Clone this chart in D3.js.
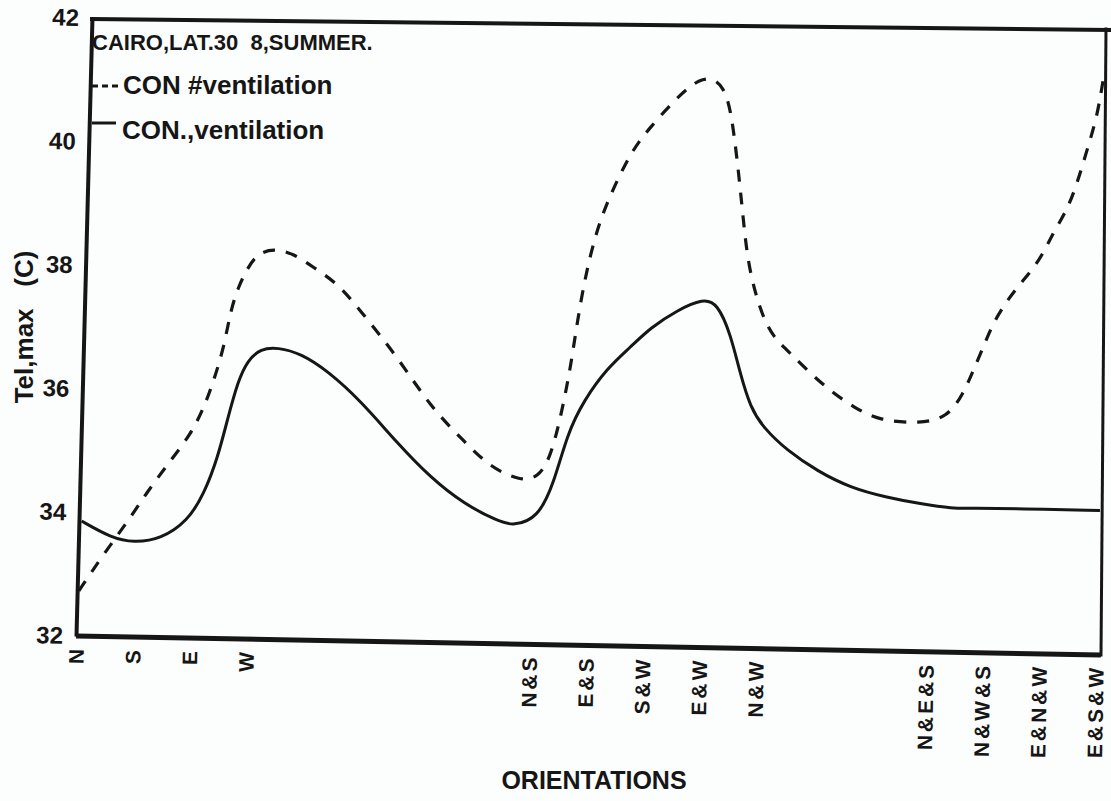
<!DOCTYPE html>
<html>
<head>
<meta charset="utf-8">
<script src="https://cdn.jsdelivr.net/npm/d3@7"></script>
<style>
  html, body { margin: 0; padding: 0; background: #fcfdfd; }
  svg { display: block; }
  text { font-family: "Liberation Sans", Arial, Helvetica, sans-serif; font-weight: bold; fill: #161616; white-space: pre; }
</style>
</head>
<body>
<svg id="chart" width="1111" height="801"></svg>
<script>
// ---------- data ----------
const categories = ["N", "S", "E", "W", "N&S", "E&S", "S&W", "E&W", "N&W", "N&E&S", "N&W&S", "E&N&W", "E&S&W"];
const categorySlots = [0, 1, 2, 3, 8, 9, 10, 11, 12, 15, 16, 17, 18];
const yTicks = [32, 34, 36, 38, 40, 42];

const titleText = "CAIRO,LAT.30  8,SUMMER.";
const seriesNames = ["CON #ventilation", "CON.,ventilation"];
const xTitle = "ORIENTATIONS";
const yTitle = "Tel,max   (C)";

// dashed curve: CON #ventilation (position along the orientation axis, value °C)
const noVentPos = [0.05, 0.49, 0.92, 1.27, 1.67, 2.03, 2.26, 2.43, 2.61, 2.73, 2.86, 3.03, 3.21, 3.49, 3.84, 4.20, 4.62, 4.97, 5.68, 6.26, 6.84, 7.32, 7.85, 8.15, 8.37, 8.55, 8.73, 8.90, 9.13, 9.38, 9.78, 10.08, 10.67, 11.02, 11.25, 11.42, 11.55, 11.67, 11.76, 11.85, 11.99, 12.13, 12.31, 12.61, 12.96, 13.31, 13.72, 14.19, 14.90, 15.37, 15.66, 15.83, 16.01, 16.18, 16.43, 16.71, 17.01, 17.24, 17.49, 17.67, 17.84, 18.02, 18.13];
const noVentVal = [32.73, 33.33, 33.86, 34.35, 34.84, 35.27, 35.70, 36.13, 36.67, 37.27, 37.64, 37.96, 38.19, 38.27, 38.19, 37.96, 37.70, 37.32, 36.51, 35.70, 35.16, 34.72, 34.51, 34.56, 34.88, 35.53, 36.34, 37.43, 38.40, 39.05, 39.81, 40.18, 40.78, 41.02, 41.02, 40.88, 40.56, 39.70, 38.89, 38.08, 37.54, 37.15, 36.83, 36.57, 36.25, 35.97, 35.70, 35.48, 35.44, 35.53, 35.92, 36.29, 36.67, 37.06, 37.43, 37.75, 38.08, 38.52, 38.89, 39.33, 39.86, 40.40, 41.02];

// solid curve: CON.,ventilation
const ventPos = [0.10, 0.62, 1.02, 1.50, 1.97, 2.26, 2.50, 2.68, 2.86, 3.03, 3.26, 3.56, 3.97, 4.44, 5.02, 5.68, 6.26, 6.84, 7.44, 7.72, 8.15, 8.43, 8.67, 8.96, 9.38, 9.78, 10.14, 10.61, 11.07, 11.32, 11.55, 11.72, 11.90, 12.13, 12.55, 13.08, 13.66, 14.32, 14.90, 15.48, 15.78, 16.66, 18.07];
const ventVal = [33.86, 33.59, 33.51, 33.57, 33.86, 34.30, 34.88, 35.53, 36.13, 36.46, 36.65, 36.67, 36.57, 36.29, 35.81, 35.11, 34.56, 34.14, 33.86, 33.78, 33.91, 34.46, 35.27, 35.81, 36.34, 36.67, 36.99, 37.27, 37.46, 37.38, 36.89, 36.25, 35.70, 35.37, 35.00, 34.67, 34.40, 34.24, 34.14, 34.06, 34.07, 34.06, 34.03];

// ---------- layout ----------
const ink = "#161616";
const originX = 76, originY = 636;        // bottom-left corner of the frame
const leftTilt = 1.48, bottomTilt = 1.06;  // slight skew of the scanned frame (degrees)

const svg = d3.select("#chart");

const x = d3.scaleLinear().domain([0, 18]).range([76, 1096]);
const y = d3.scaleLinear().domain([32, 42]).range([636, 18]);

// ---------- frame ----------
const frame = svg.append("g").attr("fill", "none").attr("stroke", ink).attr("stroke-linecap", "square");
frame.append("path").attr("d", "M92,19 L1111,30").attr("stroke-width", 4);
frame.append("path").attr("d", "M1106,29 L1101,655").attr("stroke-width", 3);

// ---------- y axis ----------
const yAxisG = svg.append("g")
  .attr("transform", `rotate(${leftTilt},${originX},${originY}) translate(${originX},0)`)
  .call(d3.axisLeft(y).tickValues(yTicks).tickSize(0).tickSizeOuter(0).tickPadding(13).tickFormat(d3.format("d")));
yAxisG.select(".domain").attr("stroke", ink).attr("stroke-width", 4);
yAxisG.selectAll(".tick text")
  .style("font-size", "24px")
  .attr("fill", ink);

// ---------- x axis ----------
const xAxisG = svg.append("g")
  .attr("transform", `rotate(${bottomTilt},${originX},${originY}) translate(0,${originY})`)
  .call(d3.axisBottom(x).tickValues(categorySlots).tickSize(0).tickSizeOuter(0)
        .tickFormat((d, i) => categories[i]));
xAxisG.select(".domain").remove();
xAxisG.append("line").attr("x1", originX).attr("x2", 1101).attr("y1", 0).attr("y2", 0)
  .attr("stroke", ink).attr("stroke-width", 5);
xAxisG.selectAll(".tick text")
  .attr("transform", "rotate(-90)")
  .attr("text-anchor", "end")
  .attr("x", -10)
  .attr("y", 0)
  .attr("dy", "0.36em")
  .style("font-size", "21px")
  .style("letter-spacing", "3px")
  .attr("fill", ink);

// ---------- curves ----------
const noVent = noVentPos.map((p, i) => ({ p, v: noVentVal[i] }));
const vent = ventPos.map((p, i) => ({ p, v: ventVal[i] }));
const line = d3.line().x(d => x(d.p)).y(d => y(d.v)).curve(d3.curveBasis);

svg.append("path").datum(noVent)
  .attr("d", line)
  .attr("fill", "none").attr("stroke", ink).attr("stroke-width", 3.2)
  .attr("stroke-dasharray", "12,11");

svg.append("path").datum(vent)
  .attr("d", line)
  .attr("fill", "none").attr("stroke", ink).attr("stroke-width", 3);

// ---------- title & legend ----------
svg.append("text").attr("x", 92).attr("y", 50).style("font-size", "22px").text(titleText);

svg.append("line").attr("x1", 92).attr("x2", 121).attr("y1", 86).attr("y2", 86)
  .attr("stroke", ink).attr("stroke-width", 3).attr("stroke-dasharray", "6,4");
svg.append("text").attr("x", 123).attr("y", 94).style("font-size", "26px").text(seriesNames[0]);

svg.append("line").attr("x1", 92).attr("x2", 116).attr("y1", 123).attr("y2", 123)
  .attr("stroke", ink).attr("stroke-width", 3);
svg.append("text").attr("x", 122).attr("y", 139).style("font-size", "26px").text(seriesNames[1]);

// ---------- axis titles ----------
svg.append("text")
  .attr("transform", "translate(33,327) rotate(-90)")
  .attr("text-anchor", "middle")
  .style("font-size", "26px")
  .text(yTitle);

svg.append("text")
  .attr("x", 594).attr("y", 789)
  .attr("text-anchor", "middle")
  .style("font-size", "25px")
  .text(xTitle);
</script>
</body>
</html>
